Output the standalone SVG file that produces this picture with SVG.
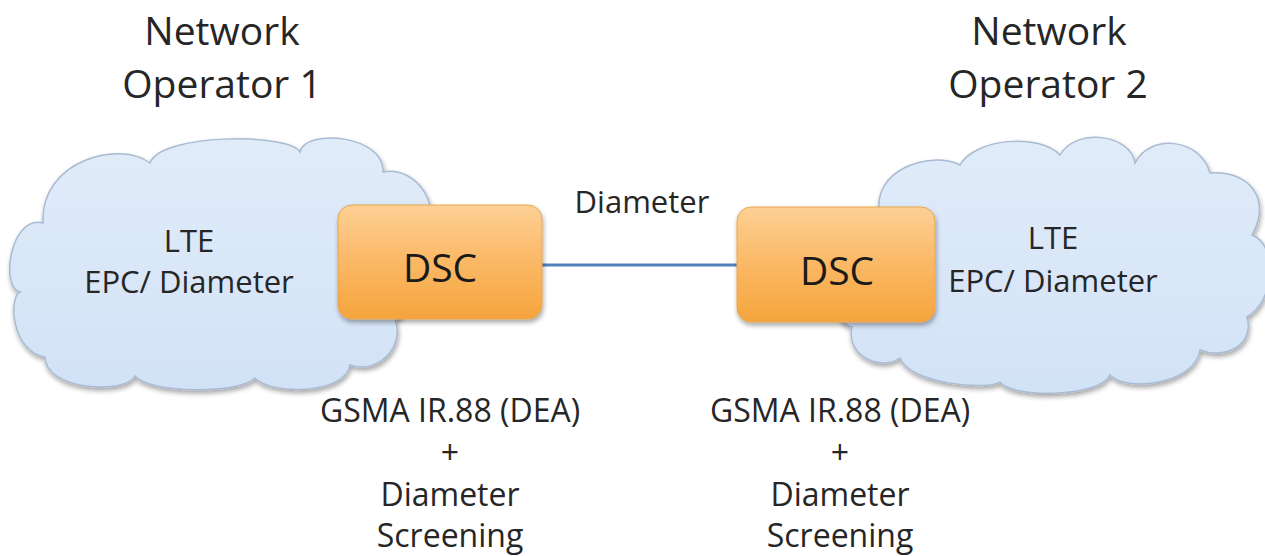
<svg xmlns="http://www.w3.org/2000/svg" width="1265" height="556" viewBox="0 0 1265 556">
  <style>
    text { font-family: "Open Sans", "Liberation Sans", sans-serif; fill: #262626; text-anchor: middle; }
    .title { font-size: 39px; }
    .cloudtxt { font-size: 31px; }
    .dsctxt { font-size: 39px; fill: #1a1a1a; }
    .lbl { font-size: 31px; }
    .note { font-size: 32px; }
    .cloud { fill: url(#cloudGrad); stroke: #a9bbd2; stroke-width: 1.5; filter: url(#shadow); }
    .dsc { fill: url(#dscGrad); stroke: #e8a550; stroke-width: 1; filter: url(#shadow); }
    .link { stroke: #4f81bd; stroke-width: 3; fill: none; }
  </style>
  <defs>
    <linearGradient id="cloudGrad" x1="0" y1="0" x2="0" y2="1">
      <stop offset="0" stop-color="#e1ecf9"/>
      <stop offset="1" stop-color="#d2e2f6"/>
    </linearGradient>
    <linearGradient id="dscGrad" x1="0" y1="0" x2="0" y2="1">
      <stop offset="0" stop-color="#fdd095"/>
      <stop offset="0.5" stop-color="#fbb865"/>
      <stop offset="1" stop-color="#f5a43c"/>
    </linearGradient>
    <filter id="shadow" x="-10%" y="-10%" width="125%" height="130%">
      <feGaussianBlur in="SourceAlpha" stdDeviation="2.5"/>
      <feOffset dx="1" dy="3" result="b"/>
      <feComponentTransfer><feFuncA type="linear" slope="0.35"/></feComponentTransfer>
      <feMerge><feMergeNode/><feMergeNode in="SourceGraphic"/></feMerge>
    </filter>
  </defs>

  <g id="title-op1">
    <text class="title" x="222" y="45">Network</text>
    <text class="title" x="222" y="98">Operator 1</text>
  </g>
  <g id="title-op2">
    <text class="title" x="1049" y="45">Network</text>
    <text class="title" x="1048" y="98">Operator 2</text>
  </g>

  <g id="cloud1">
    <path class="cloud" d="M43,223 C10,215 0,288 20,292 C8,298 12,352 45,357 C45,390 125,395 135,376 C150,394 240,394 255,378 C270,395 345,395 350,365 C380,375 405,345 395,320 C430,300 440,240 420,228 C445,215 420,165 383,172 C385,135 305,128 300,152 C290,133 160,133 150,163 C120,140 40,160 43,223 Z"/>
    <text class="cloudtxt" x="189" y="252">LTE</text>
    <text class="cloudtxt" x="189" y="293">EPC/ Diameter</text>
  </g>

  <g id="cloud2">
    <path class="cloud" d="M880,215 C870,170 930,150 960,165 C975,138 1040,133 1060,155 C1075,128 1130,133 1135,163 C1150,133 1200,138 1210,173 C1250,170 1272,200 1252,235 C1278,245 1276,300 1247,317 C1255,345 1225,360 1200,350 C1195,385 1125,392 1110,375 C1100,398 1010,398 1000,382 C990,390 910,385 900,358 C880,372 845,355 852,327 C820,320 830,220 880,215 Z"/>
    <text class="cloudtxt" x="1053" y="249">LTE</text>
    <text class="cloudtxt" x="1053" y="292">EPC/ Diameter</text>
  </g>

  <g id="connectors">
    <line class="link" x1="541" y1="265" x2="738" y2="265"/>
    <text class="lbl" x="642" y="213">Diameter</text>
  </g>

  <g id="dsc1">
    <rect class="dsc" x="338" y="205" width="204" height="114" rx="14" ry="14"/>
    <text class="dsctxt" x="440" y="282">DSC</text>
  </g>

  <g id="dsc2">
    <rect class="dsc" x="737" y="207" width="198" height="115" rx="14" ry="14"/>
    <text class="dsctxt" x="837" y="285">DSC</text>
  </g>

  <g id="note1">
    <text class="note" x="450" y="422">GSMA IR.88 (DEA)</text>
    <text class="note" x="450" y="464">+</text>
    <text class="note" x="450" y="506">Diameter</text>
    <text class="note" x="450" y="547">Screening</text>
  </g>

  <g id="note2">
    <text class="note" x="840" y="422">GSMA IR.88 (DEA)</text>
    <text class="note" x="840" y="464">+</text>
    <text class="note" x="840" y="506">Diameter</text>
    <text class="note" x="840" y="547">Screening</text>
  </g>
</svg>
